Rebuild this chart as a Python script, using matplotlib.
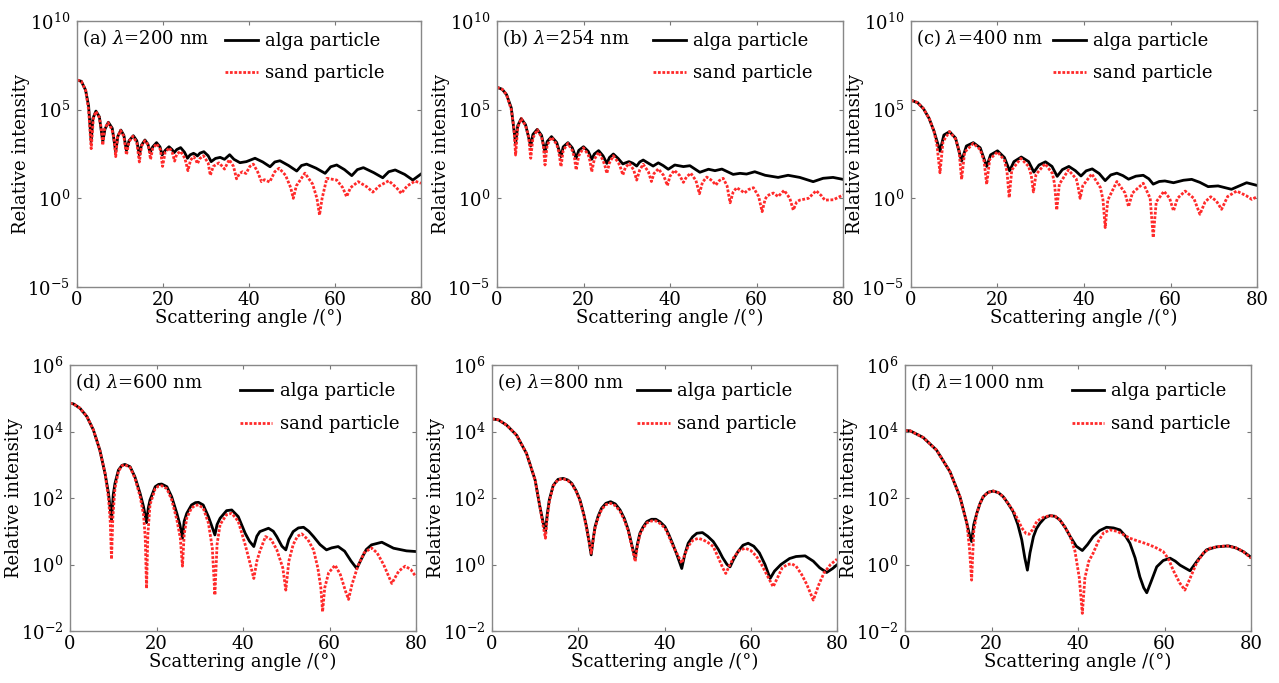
import matplotlib
matplotlib.use('Agg')
import matplotlib.pyplot as plt
import numpy as np

plt.rcParams['font.family'] = ['DejaVu Serif']
plt.rcParams['mathtext.fontset'] = 'dejavuserif'

# ---- data: scattering angle (deg) and log10 of relative intensity ----
a_alga_ang = [0, 1.0, 2.0, 2.7, 3.3, 3.7, 4.4, 5.2, 6.0, 6.5, 7.3, 8.2, 9.0, 9.5, 10.2, 10.9, 11.5, 12.1, 13.1,
              13.9, 14.5, 15.0, 15.8, 16.5, 17.0, 17.6, 18.5, 19.3, 19.8, 20.5, 21.4, 22.1, 22.6, 23.2, 24.1,
              25.0, 25.7, 26.3, 27.1, 27.6, 28.0, 28.6, 29.5, 30.5, 31.2, 32.2, 33.3, 34.3, 35.5, 36.5, 37.9,
              39.4, 41.4, 43.2, 44.9, 46.0, 47.2, 49.2, 51.1, 52.2, 53.4, 55.6, 57.7, 59.0, 60.4, 62.2, 63.9,
              65.2, 66.6, 69.0, 71.1, 72.5, 74.0, 76.2, 78.1, 80]
a_alga_log = [6.67, 6.6, 6.1, 5.2, 3.2, 4.5, 4.92, 4.6, 3.2, 3.9, 4.29, 3.95, 2.63, 3.5, 3.85, 3.55, 2.7, 3.25, 3.53,
              3.25, 2.45, 3.0, 3.29, 3.05, 2.58, 2.9, 3.14, 2.9, 2.45, 2.7, 2.91, 2.75, 2.58, 2.75, 2.86,
              2.6, 2.26, 2.45, 2.54, 2.47, 2.39, 2.55, 2.63, 2.4, 2.07, 2.25, 2.31, 2.2, 2.46, 2.2, 2.01,
              2.07, 2.26, 2.05, 1.78, 2.05, 2.12, 1.85, 1.54, 1.85, 1.93, 1.7, 1.41, 1.78, 1.88, 1.62, 1.28,
              1.62, 1.73, 1.45, 1.16, 1.5, 1.6, 1.35, 1.03, 1.37]
a_sand_ang = [0, 1.0, 2.0, 2.7, 3.3, 3.8, 4.4, 5.2, 5.6, 6.0, 6.4, 7.2, 8.1, 8.6, 9.0, 9.4, 10.1, 10.9, 11.5, 12.1,
              13.0, 13.9, 14.5, 15.0, 15.8, 16.6, 17.1, 17.6, 18.5, 19.4, 19.9, 20.5, 21.5, 22.2, 22.7, 23.2,
              24.1, 25.1, 25.8, 26.4, 27.1, 27.6, 28.0, 28.6, 29.4, 30.5, 31.0, 31.7, 33.0, 33.8, 34.3, 35.4,
              36.4, 37.1, 37.8, 38.5, 39.3, 40.2, 41.0, 42.0, 42.9, 43.6, 44.8, 46.0, 47.0, 48.5, 49.7, 50.3,
              51.0, 53.0, 54.8, 55.8, 56.4, 57.0, 58.1, 60.4, 61.8, 62.7, 63.6, 65.4, 67.4, 68.8, 70.3, 72.5,
              74.3, 75.4, 76.8, 78.6, 80]
a_sand_log = [6.67, 6.6, 6.1, 5.0, 2.8, 4.5, 4.9, 4.55, 4.0, 3.0, 3.9, 4.27, 3.9, 3.4, 2.35, 3.4, 3.83, 3.5, 2.45, 3.2,
              3.5, 3.15, 2.05, 2.95, 3.25, 3.0, 2.2, 2.8, 3.08, 2.75, 1.8, 2.6, 2.85, 2.55, 2.1, 2.5,
              2.65, 2.25, 1.56, 2.15, 2.35, 2.2, 1.95, 2.25, 2.4, 2.0, 1.3, 1.8, 2.0, 1.8, 1.65, 2.18,
              1.8, 1.1, 1.4, 1.5, 1.4, 1.8, 1.93, 1.5, 0.94, 1.05, 0.92, 1.5, 1.7, 1.3, 0.6, 0.0,
              0.7, 1.42, 0.8, 0.0, -0.94, 0.0, 1.13, 1.03, 0.6, 0.09, 0.6, 0.94, 0.65, 0.35, 0.7, 0.99,
              0.6, 0.28, 0.7, 0.97, 0.85]

b_alga_ang = [0, 1.2, 2.2, 3.3, 4.3, 4.8, 5.6, 6.6, 7.8, 8.3, 9.3, 10.3, 11.1, 11.6, 12.6, 13.8, 14.8, 15.3, 16.4,
              17.4, 18.3, 18.9, 20.0, 21.1, 21.9, 22.5, 23.5, 24.5, 25.4, 26.0, 26.9, 28.0, 29.1, 29.7, 30.5,
              31.4, 32.3, 33.0, 33.8, 35.0, 36.1, 37.3, 38.4, 39.6, 41.1, 43.1, 44.6, 46.9, 48.9, 50.4, 52.0,
              54.6, 56.2, 57.7, 59.6, 62.0, 65.0, 67.3, 70.0, 73.1, 75.4, 77.7, 80]
b_alga_log = [6.26, 6.15, 5.85, 5.1, 3.1, 4.1, 4.5, 4.15, 2.95, 3.6, 3.89, 3.55, 2.6, 3.2, 3.48, 3.15, 2.35, 2.9, 3.14,
              2.85, 2.26, 2.7, 2.91, 2.65, 2.2, 2.5, 2.69, 2.4, 1.97, 2.3, 2.5, 2.25, 1.94, 2.0, 2.07,
              1.98, 1.82, 2.05, 2.16, 1.98, 1.82, 2.0, 1.85, 1.64, 1.88, 1.79, 1.84, 1.47, 1.64, 1.56, 1.65,
              1.35, 1.41, 1.37, 1.5, 1.3, 1.18, 1.3, 1.18, 0.94, 1.13, 1.18, 1.07]
b_sand_ang = [0, 1.2, 2.2, 3.3, 3.9, 4.3, 4.8, 5.6, 6.6, 7.3, 7.8, 8.3, 9.3, 10.3, 10.7, 11.1, 11.6, 12.6, 13.8,
              14.3, 14.8, 15.3, 16.4, 17.4, 17.9, 18.3, 18.9, 20.0, 21.1, 21.5, 21.9, 22.5, 23.5, 24.5, 25.0,
              25.4, 26.0, 26.9, 28.1, 28.6, 29.1, 29.7, 30.6, 31.6, 32.3, 33.0, 33.8, 35.0, 35.7, 36.3, 37.3,
              38.5, 39.4, 40.0, 41.0, 42.2, 43.1, 43.8, 44.8, 46.0, 46.8, 47.5, 48.5, 49.7, 50.6, 51.4, 52.3,
              53.2, 53.9, 54.6, 55.4, 56.4, 57.2, 58.2, 59.3, 60.5, 61.3, 62.0, 62.5, 63.9, 65.0, 66.4, 67.7,
              68.5, 69.3, 70.0, 72.0, 73.8, 75.0, 75.8, 77.8, 80]
b_sand_log = [6.26, 6.15, 5.85, 5.0, 4.0, 2.44, 4.0, 4.5, 4.1, 3.5, 2.26, 3.4, 3.87, 3.45, 3.0, 1.88, 3.0, 3.45, 3.05,
              2.6, 1.79, 2.7, 3.1, 2.7, 2.3, 1.6, 2.4, 2.85, 2.45, 2.1, 1.5, 2.2, 2.6, 2.15, 1.8,
              1.41, 2.0, 2.4, 2.0, 1.7, 1.32, 1.75, 1.97, 1.6, 1.03, 1.6, 1.92, 1.5, 0.95, 1.4, 1.66,
              1.3, 0.72, 1.25, 1.58, 1.3, 0.9, 1.2, 1.42, 1.0, 0.26, 0.9, 1.2, 1.0, 0.75, 1.0, 1.13,
              0.7, -0.25, 0.35, 0.6, 0.45, 0.3, 0.5, 0.6, 0.1, -0.75, -0.05, 0.15, 0.3, 0.1, 0.45, 0.0,
              -0.66, -0.2, -0.1, 0.0, 0.43, 0.15, -0.1, -0.08, 0.19]

c_alga_ang = [0, 1.5, 2.9, 4.2, 5.3, 6.7, 7.6, 8.9, 10.3, 11.7, 12.8, 14.4, 16.0, 17.5, 18.4, 20.0, 21.6, 22.8,
              23.8, 25.5, 27.2, 28.4, 29.6, 31.1, 32.6, 33.8, 35.0, 36.5, 38.0, 39.3, 40.5, 41.9, 43.5, 44.9,
              46.2, 47.6, 49.0, 50.3, 52.0, 53.7, 55.0, 56.0, 57.4, 58.7, 60.7, 63.0, 64.9, 66.8, 68.7, 71.0,
              74.1, 77.6, 80]
c_alga_log = [5.53, 5.4, 5.05, 4.5, 3.8, 2.66, 3.57, 3.76, 3.4, 2.1, 2.95, 3.14, 2.85, 1.8, 2.45, 2.68, 2.3, 1.55,
              2.07, 2.33, 2.07, 1.48, 1.88, 2.06, 1.8, 1.24, 1.62, 1.8, 1.56, 1.26, 1.55, 1.66, 1.4, 1.0,
              1.32, 1.42, 1.28, 1.08, 1.25, 1.3, 1.1, 0.8, 0.95, 0.98, 0.88, 1.02, 1.07, 0.9, 0.66, 0.7,
              0.51, 0.88, 0.73]
c_sand_ang = [0, 1.5, 2.9, 4.2, 5.3, 6.0, 6.7, 7.4, 8.9, 10.3, 11.1, 11.7, 12.4, 14.4, 16.0, 16.9, 17.5, 18.2,
              20.0, 21.6, 22.2, 22.7, 23.3, 25.4, 27.2, 27.8, 28.3, 28.9, 31.0, 32.7, 33.2, 33.7, 34.3, 36.4,
              38.2, 38.6, 39.1, 39.7, 41.8, 43.8, 44.4, 44.9, 45.5, 47.6, 49.5, 50.3, 51.2, 53.7, 55.3, 56.0,
              56.7, 58.5, 59.8, 60.7, 61.6, 63.4, 65.4, 66.8, 68.0, 69.3, 70.6, 71.8, 73.2, 75.3, 77.5, 78.8,
              80]
c_sand_log = [5.53, 5.4, 5.05, 4.5, 3.8, 3.0, 1.44, 3.2, 3.76, 3.35, 2.7, 1.07, 2.6, 3.1, 2.75, 2.1, 0.79, 2.2,
              2.62, 2.15, 1.5, 0.04, 1.6, 2.25, 1.8, 1.3, 0.36, 1.35, 1.95, 1.4, 0.8, -0.66, 0.8, 1.6,
              1.1, 0.7, 0.0, 0.7, 1.38, 0.6, -0.1, -1.65, -0.1, 0.95, 0.3, -0.47, 0.3, 0.85, 0.0, -2.21,
              -0.2, 0.4, 0.0, -0.71, 0.0, 0.41, 0.0, -0.9, -0.2, 0.09, -0.15, -0.62, 0.1, 0.41, 0.15, -0.06,
              0.09]

d_alga_ang = [0, 0.8, 2.3, 3.9, 5.4, 6.9, 8.1, 8.9, 9.6, 10.0, 10.4, 11.2, 12.0, 12.7, 13.9, 15.0, 16.2, 17.0,
              17.7, 18.1, 18.5, 19.7, 20.5, 21.2, 22.4, 23.5, 24.7, 25.4, 26.0, 26.4, 27.0, 28.1, 29.0, 29.7,
              30.8, 32.0, 32.8, 33.5, 34.0, 34.7, 36.2, 37.4, 38.9, 40.5, 41.5, 42.5, 43.2, 43.9, 45.9, 47.0,
              47.8, 49.0, 49.9, 50.6, 51.6, 52.8, 54.0, 55.2, 56.3, 57.8, 59.3, 60.5, 62.0, 63.5, 65.0, 66.3,
              67.5, 68.5, 69.7, 72.1, 74.8, 77.8, 80]
d_alga_log = [4.85, 4.83, 4.7, 4.45, 4.05, 3.44, 2.74, 2.14, 1.34, 2.1, 2.44, 2.84, 2.98, 3.01, 2.94, 2.64, 2.14,
              1.74, 1.26, 1.7, 1.94, 2.34, 2.41, 2.42, 2.34, 2.04, 1.54, 1.2, 0.79, 1.3, 1.54, 1.79, 1.86, 1.87,
              1.79, 1.44, 1.15, 0.89, 1.2, 1.39, 1.62, 1.64, 1.44, 0.94, 0.7, 0.54, 0.85, 0.99, 1.09, 1.0,
              0.84, 0.55, 0.44, 0.75, 0.99, 1.1, 1.12, 1.0, 0.84, 0.6, 0.44, 0.5, 0.54, 0.4, 0.1, -0.12,
              0.2, 0.45, 0.59, 0.67, 0.49, 0.41, 0.39]
d_sand_ang = [0, 0.8, 2.3, 3.9, 5.4, 6.9, 8.1, 8.9, 9.3, 9.6, 9.9, 10.4, 11.2, 12.0, 12.7, 13.9, 15.0, 16.2, 17.0,
              17.4, 17.7, 18.0, 18.5, 19.7, 20.5, 21.2, 22.4, 23.5, 24.7, 25.5, 26.0, 26.4, 27.0, 28.1, 29.0,
              29.7, 30.8, 32.0, 32.9, 33.5, 34.0, 34.7, 36.2, 37.4, 38.9, 40.5, 41.7, 42.5, 43.2, 43.9, 45.2,
              46.5, 47.8, 49.2, 49.9, 50.6, 51.6, 52.6, 53.6, 55.0, 56.3, 57.3, 58.0, 58.4, 58.9, 59.8, 61.3,
              62.5, 63.7, 64.4, 65.2, 66.5, 68.0, 69.7, 71.0, 72.5, 74.4, 76.0, 77.5, 78.8, 80]
d_sand_log = [4.85, 4.83, 4.7, 4.45, 4.05, 3.44, 2.74, 2.0, 1.3, 0.16, 1.4, 2.3, 2.8, 2.97, 3.0, 2.92, 2.6, 2.05, 1.5,
              0.8, -0.72, 0.9, 1.8, 2.28, 2.36, 2.37, 2.28, 1.95, 1.35, 0.8, -0.05, 0.9, 1.4, 1.7, 1.78,
              1.79, 1.7, 1.25, 0.5, -0.92, 0.6, 1.2, 1.5, 1.54, 1.3, 0.6, 0.0, -0.42, 0.1, 0.4, 0.84,
              0.75, 0.45, -0.1, -0.77, 0.1, 0.6, 0.85, 0.92, 0.75, 0.44, -0.1, -0.7, -1.42, -0.7, -0.25, -0.02,
              -0.3, -0.8, -1.05, -0.6, -0.07, 0.35, 0.5, 0.35, 0.0, -0.57, -0.2, -0.05, -0.15, -0.37]

e_alga_ang = [0, 1.5, 3.4, 5.7, 8.0, 10.0, 11.1, 11.8, 12.4, 12.8, 13.3, 14.2, 15.3, 16.5, 17.6, 18.5, 19.5, 20.4,
              21.3, 21.9, 22.5, 23.0, 23.5, 23.9, 24.6, 25.4, 26.4, 27.5, 28.6, 29.7, 30.7, 31.6, 32.4, 33.2,
              33.7, 34.3, 35.0, 35.9, 37.0, 38.0, 39.0, 40.1, 41.0, 42.0, 43.0, 44.0, 44.7, 45.5, 46.5, 47.5,
              48.8, 50.0, 51.3, 52.5, 53.5, 54.5, 55.2, 56.0, 57.0, 58.2, 59.4, 60.7, 62.0, 63.3, 64.5, 65.5,
              67.0, 69.0, 70.5, 72.6, 74.5, 76.0, 77.6, 79.0, 80]
e_alga_log = [4.38, 4.35, 4.19, 3.89, 3.34, 2.54, 1.74, 1.3, 0.99, 1.5, 1.95, 2.38, 2.56, 2.59, 2.54, 2.44, 2.22, 1.94,
              1.5, 1.14, 0.7, 0.29, 0.8, 1.14, 1.45, 1.69, 1.84, 1.89, 1.82, 1.64, 1.38, 1.04, 0.6, 0.19,
              0.6, 0.94, 1.12, 1.29, 1.36, 1.36, 1.28, 1.14, 0.9, 0.59, 0.25, -0.12, 0.3, 0.64, 0.83, 0.94,
              0.96, 0.85, 0.69, 0.45, 0.2, 0.0, -0.07, 0.15, 0.38, 0.58, 0.64, 0.55, 0.35, 0.0, -0.42, -0.2,
              0.0, 0.18, 0.24, 0.26, 0.1, -0.1, -0.24, -0.12, -0.01]
e_sand_ang = [0, 1.5, 3.4, 5.7, 8.0, 10.0, 11.1, 11.8, 12.4, 12.8, 13.3, 14.2, 15.3, 16.5, 17.6, 18.5, 19.5, 20.4,
              21.3, 21.9, 22.5, 23.0, 23.5, 23.9, 24.6, 25.4, 26.4, 27.5, 28.6, 29.7, 30.7, 31.6, 32.4, 33.2,
              33.7, 34.3, 35.0, 35.9, 37.0, 38.0, 39.0, 40.1, 41.0, 42.0, 43.0, 44.0, 44.7, 45.5, 46.5, 47.8,
              49.0, 50.2, 51.3, 52.5, 53.5, 54.2, 55.0, 56.0, 57.3, 58.7, 60.0, 61.3, 62.5, 63.7, 65.2, 66.2,
              67.3, 68.5, 69.5, 70.5, 71.8, 73.0, 74.5, 75.8, 77.0, 78.5, 80]
e_sand_log = [4.38, 4.35, 4.19, 3.89, 3.34, 2.54, 1.74, 1.2, 0.79, 1.4, 1.9, 2.36, 2.55, 2.58, 2.52, 2.42, 2.2, 1.92,
              1.48, 1.12, 0.7, 0.34, 0.78, 1.1, 1.4, 1.65, 1.8, 1.84, 1.77, 1.6, 1.33, 1.0, 0.55, 0.09,
              0.55, 0.9, 1.08, 1.25, 1.31, 1.31, 1.23, 1.1, 0.85, 0.55, 0.3, 0.04, 0.3, 0.55, 0.72, 0.79,
              0.74, 0.65, 0.54, 0.2, -0.1, -0.27, -0.05, 0.2, 0.42, 0.49, 0.42, 0.25, 0.0, -0.3, -0.67, -0.4,
              -0.1, 0.0, 0.02, -0.05, -0.3, -0.6, -1.07, -0.6, -0.25, 0.0, 0.16]

f_alga_ang = [0, 1.2, 4.2, 7.3, 10.4, 12.7, 14.3, 14.9, 15.4, 15.9, 16.6, 17.3, 18.1, 19.2, 20.4, 21.6, 22.7, 23.8,
              25.0, 26.1, 27.0, 27.7, 28.3, 28.9, 29.7, 30.4, 31.2, 32.3, 33.5, 34.7, 35.8, 37.0, 38.2, 39.6,
              41.0, 42.2, 43.5, 45.0, 46.6, 48.2, 49.7, 51.0, 52.0, 53.2, 54.3, 55.2, 55.9, 56.8, 58.2, 59.7,
              61.3, 62.5, 63.6, 65.9, 67.8, 69.7, 72.0, 74.8, 76.5, 78.2, 80]
f_alga_log = [4.03, 4.02, 3.82, 3.44, 2.79, 2.04, 1.24, 0.9, 0.69, 1.2, 1.54, 1.82, 2.04, 2.17, 2.21, 2.16, 2.04, 1.84,
              1.59, 1.2, 0.74, 0.2, -0.17, 0.35, 0.84, 1.08, 1.24, 1.4, 1.47, 1.45, 1.34, 1.12, 0.84, 0.55,
              0.42, 0.6, 0.84, 1.02, 1.12, 1.1, 1.04, 0.85, 0.64, 0.2, -0.37, -0.7, -0.85, -0.55, -0.07, 0.12,
              0.19, 0.1, -0.02, -0.19, 0.15, 0.44, 0.53, 0.56, 0.5, 0.39, 0.22]
f_sand_ang = [0, 1.2, 4.2, 7.3, 10.4, 12.7, 14.3, 14.9, 15.4, 15.9, 16.6, 17.3, 18.1, 19.2, 20.4, 21.6, 22.7, 23.8,
              25.0, 26.1, 27.0, 28.0, 28.7, 29.5, 30.5, 32.0, 33.5, 34.7, 35.8, 37.0, 38.2, 39.3, 40.3, 41.0,
              41.6, 42.5, 43.5, 44.7, 45.9, 47.4, 49.0, 50.5, 52.0, 54.0, 55.9, 57.8, 59.7, 61.0, 62.0, 63.5,
              64.7, 65.8, 67.4, 69.0, 70.5, 72.5, 74.4, 76.5, 78.2, 80]
f_sand_log = [4.03, 4.02, 3.82, 3.44, 2.79, 2.04, 1.24, 0.5, -0.47, 1.0, 1.54, 1.82, 2.04, 2.17, 2.21, 2.16, 2.04, 1.84,
              1.62, 1.35, 1.1, 0.93, 0.91, 1.05, 1.3, 1.42, 1.47, 1.45, 1.34, 1.12, 0.85, 0.4, -0.4, -1.47,
              -0.4, 0.1, 0.34, 0.7, 0.95, 1.04, 1.0, 0.9, 0.79, 0.7, 0.62, 0.52, 0.39, 0.15, -0.17, -0.55,
              -0.77, -0.45, 0.04, 0.35, 0.49, 0.54, 0.56, 0.5, 0.39, 0.19]

titles = ['(a) $\\lambda$=200 nm', '(b) $\\lambda$=254 nm', '(c) $\\lambda$=400 nm',
          '(d) $\\lambda$=600 nm', '(e) $\\lambda$=800 nm', '(f) $\\lambda$=1000 nm']
top_ticks = [-5, 0, 5, 10]
bottom_ticks = [-2, 0, 2, 4, 6]
x_ticks = [0, 20, 40, 60, 80]

panels = [
    (a_alga_ang, a_alga_log, a_sand_ang, a_sand_log),
    (b_alga_ang, b_alga_log, b_sand_ang, b_sand_log),
    (c_alga_ang, c_alga_log, c_sand_ang, c_sand_log),
    (d_alga_ang, d_alga_log, d_sand_ang, d_sand_log),
    (e_alga_ang, e_alga_log, e_sand_ang, e_sand_log),
    (f_alga_ang, f_alga_log, f_sand_ang, f_sand_log),
]

# axes boxes in pixels: left, top, right, bottom
W, H = 1279, 683
boxes = [(77, 21, 421, 287), (497, 21, 843, 287), (911, 21, 1257, 287),
         (70, 365, 416, 631), (492, 365, 837, 631), (905, 365, 1251, 631)]
legend_x = [0.40, 0.42, 0.38, 0.46, 0.39, 0.45]
legend_y = [1.0, 1.0, 1.0, 0.975, 0.975, 0.975]

fig = plt.figure(figsize=(W / 100, H / 100), dpi=100)

for i, (aa, al, sa, sl) in enumerate(panels):
    l, t, r, b = boxes[i]
    ax = fig.add_axes([l / W, 1 - b / H, (r - l) / W, (b - t) / H])
    ax.plot(aa, 10 ** np.array(al), color='black', lw=2.0, label='alga particle')
    ax.plot(sa, 10 ** np.array(sl), color='#ff2a2a', lw=2.0, ls=(0, (1, 0.6)), label='sand particle')
    ax.set_yscale('log')
    ticks = top_ticks if i < 3 else bottom_ticks
    ax.set_ylim(10.0 ** ticks[0], 10.0 ** ticks[-1])
    ax.set_yticks([10.0 ** k for k in ticks])
    ax.set_yticklabels(['$10^{%d}$' % k for k in ticks])
    ax.minorticks_off()
    ax.set_xlim(0, 80)
    ax.set_xticks(x_ticks)
    ax.tick_params(direction='in', length=3, width=0.8, labelsize=13,
                   top=True, right=True, color='#777777')
    ax.tick_params(axis='x', pad=3)
    ax.tick_params(axis='y', pad=5)
    for s in ax.spines.values():
        s.set_color('#888888')
        s.set_linewidth(1.0)
    ax.set_xlabel('Scattering angle /(°)', fontsize=13, labelpad=0)
    ax.set_ylabel('Relative intensity', fontsize=13, labelpad=-2)
    ax.text(0.015, 0.975, titles[i], transform=ax.transAxes, fontsize=13, va='top', ha='left')
    ax.legend(loc='upper left', bbox_to_anchor=(legend_x[i], legend_y[i]), frameon=False, fontsize=13,
              handlelength=1.8, handletextpad=0.4, labelspacing=0.8, borderaxespad=0.2)

fig.savefig('out.png', dpi=100)
